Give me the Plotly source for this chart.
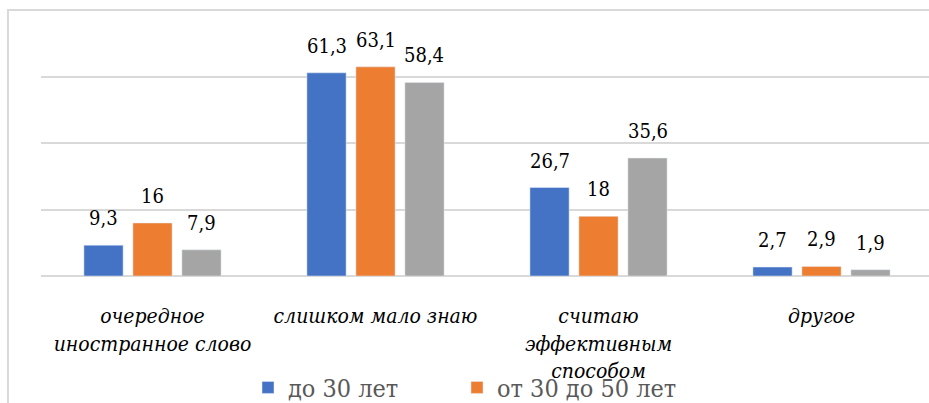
import plotly.graph_objects as go

categories = ["очередное<br>иностранное слово", "слишком мало знаю",
              "считаю<br>эффективным<br>способом", "другое"]
series_names = ["до 30 лет", "от 30 до 50 лет", "старше 50 лет"]
values_under30 = [9.3, 61.3, 26.7, 2.7]
values_30to50 = [16, 63.1, 18, 2.9]
values_over50 = [7.9, 58.4, 35.6, 1.9]
colors = ["#4472C4", "#ED7D31", "#A5A5A5"]
y_ticks = [0, 20, 40, 60]

SERIF = "DejaVu Serif Condensed, DejaVu Serif"

series_values = [values_under30, values_30to50, values_over50]
positions = list(range(len(categories)))

BARGAP = 0.341
legend_ids = ["legend", "legend2", "legend3"]
fig = go.Figure()
annotations = []
n = len(series_values)
slot = (1 - BARGAP) / n
for k, (name, vals, col) in enumerate(zip(series_names, series_values, colors)):
    fig.add_trace(go.Bar(
        x=positions, y=vals, name=name, marker_color=col,
        showlegend=(k < 2), legend=legend_ids[k],
    ))
    for i, v in enumerate(vals):
        annotations.append(dict(
            x=i + (k - (n - 1) / 2) * slot, y=v, xref="x", yref="y",
            text=("%g" % v).replace(".", ","), showarrow=False,
            xanchor="center", yanchor="bottom", yshift=13,
            font=dict(family=SERIF, size=20, color="#000000"),
        ))

legend_common = dict(
    orientation="h", xref="container", yref="container",
    xanchor="left", y=0.038, yanchor="middle",
    font=dict(family=SERIF, size=25, color="#595959"),
    itemwidth=30, tracegroupgap=0, bgcolor="rgba(0,0,0,0)",
)

fig.update_layout(
    width=929, height=403,
    margin=dict(l=41, r=0, t=44, b=127, autoexpand=False),
    paper_bgcolor="white", plot_bgcolor="white",
    barmode="group", bargap=BARGAP, bargroupgap=0.2,
    annotations=annotations,
    showlegend=True,
    font=dict(family=SERIF),
    legend=dict(legend_common, x=248 / 929),
    legend2=dict(legend_common, x=457 / 929),
    shapes=[dict(
        type="rect", xref="paper", yref="paper",
        x0=-0.0372, x1=1.2, y0=-1.0, y1=1.1466,
        line=dict(color="#D9D9D9", width=2), fillcolor="rgba(0,0,0,0)",
        layer="below",
    )],
)
fig.update_xaxes(
    range=[-0.5, len(categories) - 0.518],
    tickvals=positions,
    ticktext=["<i>" + c.replace("<br>", "</i><br><i>") + "</i>" for c in categories],
    showgrid=False, zeroline=False, showline=False,
    ticks="outside", ticklen=21, tickcolor="rgba(0,0,0,0)",
    tickfont=dict(family=SERIF, size=21, color="#000000"),
    tickangle=0,
)
fig.update_yaxes(
    range=[0, 70], tickvals=y_ticks, showticklabels=False,
    showgrid=True, gridcolor="#D9D9D9", gridwidth=1.5,
    zeroline=True, zerolinecolor="#D9D9D9", zerolinewidth=1.5,
    showline=False,
)

fig.write_html("out.html", config={"displayModeBar": False},
               post_script="document.body.style.margin='0';")
